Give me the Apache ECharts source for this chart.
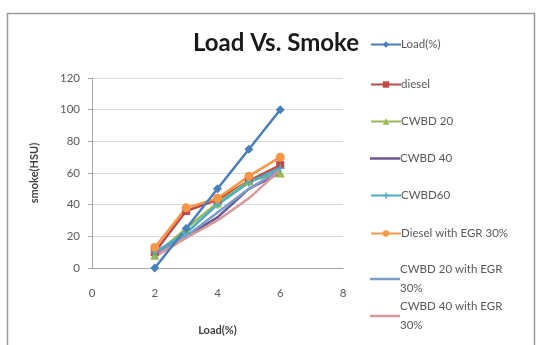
<!doctype html>
<html>
<head>
  <meta charset="utf-8">
  <script src="https://cdn.jsdelivr.net/npm/echarts@6/dist/echarts.min.js"></script>
  <style>
    html, body { margin: 0; width: 100%; height: 100%; background: #fff; }
    #main { width: 542px; height: 345px; }
  </style>
</head>
<body>
  <div id="main"></div>
  <script>
    // load points (x axis)
    var loads = [2, 3, 4, 5, 6];
    var seriesNames = ['Load(%)', 'diesel', 'CWBD 20', 'CWBD 40', 'CWBD60',
      'Diesel with EGR 30%', 'CWBD 20 with EGR 30%', 'CWBD 40 with EGR 30%'];
    // smoke (HSU)
    var loadPct = [0, 25, 50, 75, 100];
    var diesel = [10, 36, 43, 55, 65];
    var cwbd20 = [8, 25, 41, 55, 60];
    var cwbd40 = [9, 20, 32, 50, 60];
    var cwbd60 = [10, 22, 40, 54, 63];
    var dieselEgr = [13, 38, 44, 58, 70];
    var cwbd20Egr = [8, 20, 35, 50, 62];
    var cwbd40Egr = [7, 19, 30, 44, 62];
    var yTicks = { min: 0, max: 120, interval: 20 };
    var xTicks = { min: 0, max: 8, interval: 2 };

    var values = [loadPct, diesel, cwbd20, cwbd40, cwbd60, dieselEgr, cwbd20Egr, cwbd40Egr];
    var colors = ['#4A7EBB', '#BE4B48', '#98B954', '#6B5791', '#4BACC6', '#F79646', '#7E9CC8', '#D9979A'];
    var plus = 'path://M4,0h2v4h4v2h-4v4h-2v-4h-4v-2h4z';
    var symbols = ['diamond', 'rect', 'triangle', 'none', plus, 'circle', 'none', 'none'];
    var sizes = [9, 8, 9, 0, 8, 9, 0, 0];

    var chart = echarts.init(document.getElementById('main'));

    var series = seriesNames.map(function (name, i) {
      return {
        type: 'line',
        name: name,
        data: loads.map(function (x, k) { return [x, values[i][k]]; }),
        symbol: symbols[i],
        symbolSize: sizes[i],
        showSymbol: symbols[i] !== 'none',
        lineStyle: { color: colors[i], width: 2.5 },
        itemStyle: { color: colors[i] },
        animation: false
      };
    });
    // draw the first series on top
    series.push(series.shift());

    var legendTops = [30, 70, 107, 144, 181, 219, 255, 292];
    var legends = seriesNames.map(function (name, i) {
      var wrapped = name.replace(' 30%', '\n30%');
      var plain = symbols[i] === 'none';
      var lg = {
        data: [name],
        left: 365,
        top: legendTops[i],
        itemWidth: 30,
        itemHeight: plain ? 2.5 : 8,
        itemGap: 0,
        formatter: i >= 6 ? function () { return wrapped; } : '{name}',
        textStyle: { color: '#595959', fontSize: 11.5, fontFamily: 'Lato', lineHeight: 19, padding: [0, 0, 0, -5] }
      };
      if (plain) lg.icon = 'rect';
      return lg;
    });

    chart.setOption({
      animation: false,
      title: {
        text: 'Load Vs. Smoke',
        left: 271,
        top: 26,
        textAlign: 'center',
        textStyle: { fontFamily: 'Lato', fontWeight: 'bold', fontSize: 24, color: '#1a1a1a' }
      },
      legend: legends,
      grid: { left: 92, right: 199, top: 78, bottom: 77 },
      xAxis: {
        type: 'value',
        min: xTicks.min, max: xTicks.max, interval: xTicks.interval,
        name: 'Load(%)',
        nameLocation: 'middle',
        nameGap: 57,
        nameTextStyle: { fontFamily: 'Lato', fontWeight: 'bold', fontSize: 11, color: '#404040' },
        axisLine: { lineStyle: { color: '#a6a6a6' } },
        axisTick: { show: false },
        axisLabel: { color: '#595959', fontFamily: 'Lato', fontSize: 11.5, margin: 19 },
        splitLine: { show: false }
      },
      yAxis: {
        type: 'value',
        min: yTicks.min, max: yTicks.max, interval: yTicks.interval,
        name: 'smoke(HSU)',
        nameLocation: 'middle',
        nameGap: 52,
        nameTextStyle: { fontFamily: 'Lato', fontWeight: 'bold', fontSize: 11, color: '#404040' },
        axisLine: { show: true, lineStyle: { color: '#a6a6a6' } },
        axisTick: { show: true, length: 4, lineStyle: { color: '#a6a6a6' } },
        axisLabel: { color: '#595959', fontFamily: 'Lato', fontSize: 11.5, margin: 12 },
        splitLine: { lineStyle: { color: '#d9d9d9' } }
      },
      graphic: [{
        type: 'rect',
        shape: { x: 7.5, y: 13.5, width: 527, height: 345 },
        style: { fill: 'none', stroke: '#9a9a9a', lineWidth: 1.5 },
        silent: true
      }],
      series: series
    });
  </script>
</body>
</html>
